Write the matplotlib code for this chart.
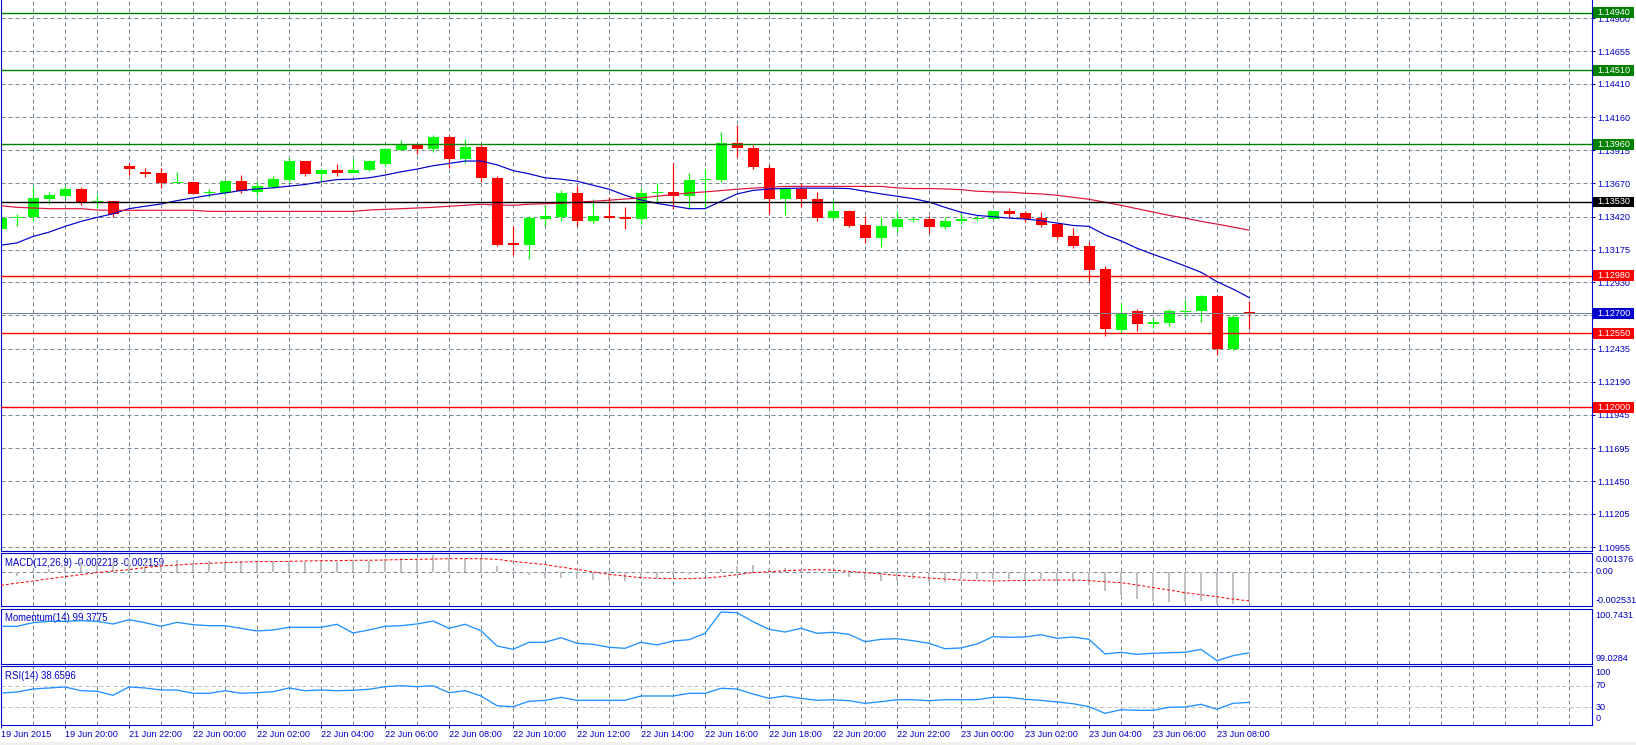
import matplotlib
matplotlib.use('Agg')
import matplotlib.pyplot as plt
from matplotlib.patches import Rectangle
from matplotlib.transforms import IdentityTransform
import numpy as np

plt.rcParams['font.family'] = ['Liberation Sans', 'DejaVu Sans']
plt.rcParams['lines.scale_dashes'] = False

W, H, DPI = 1636, 745, 100

# ---------------- data (EURUSD M30) ----------------
opens = [1.13328, 1.13408, 1.13418, 1.13552, 1.13575, 1.13627, 1.13530, 1.13537,
         1.13800, 1.13755, 1.13745, 1.13672, 1.13680, 1.13597, 1.13600, 1.13687,
         1.13605, 1.13642, 1.13695, 1.13832, 1.13735, 1.13770, 1.13747, 1.13765,
         1.13815, 1.13920, 1.13957, 1.13927, 1.14017, 1.13852, 1.13942, 1.13710,
         1.13222, 1.13208, 1.13403, 1.13418, 1.13597, 1.13388, 1.13425, 1.13418,
         1.13403, 1.13595, 1.13602, 1.13575, 1.13690, 1.13697, 1.13972, 1.13934,
         1.13785, 1.13552, 1.13627, 1.13552, 1.13410, 1.13463, 1.13355, 1.13260,
         1.13345, 1.13395, 1.13405, 1.13343, 1.13388, 1.13401, 1.13405, 1.13463,
         1.13445, 1.13410, 1.13365, 1.13275, 1.13200, 1.13028, 1.12579, 1.12714,
         1.12624, 1.12628, 1.12712, 1.12718, 1.12826, 1.12436, 1.12708]
highs = [1.13440, 1.13440, 1.13642, 1.13605, 1.13650, 1.13642, 1.13585, 1.13540,
         1.13822, 1.13785, 1.13785, 1.13755, 1.13682, 1.13627, 1.13695, 1.13732,
         1.13687, 1.13725, 1.13862, 1.13839, 1.13777, 1.13815, 1.13852, 1.13845,
         1.13930, 1.13994, 1.13964, 1.14032, 1.14032, 1.14002, 1.13957, 1.13725,
         1.13350, 1.13425, 1.13508, 1.13620, 1.13650, 1.13552, 1.13567, 1.13492,
         1.13635, 1.13672, 1.13822, 1.13747, 1.13777, 1.14054, 1.14107, 1.13957,
         1.13807, 1.13642, 1.13672, 1.13605, 1.13552, 1.13470, 1.13425, 1.13418,
         1.13463, 1.13418, 1.13425, 1.13418, 1.13448, 1.13433, 1.13465, 1.13485,
         1.13463, 1.13455, 1.13375, 1.13335, 1.13230, 1.13051, 1.12774, 1.12729,
         1.12666, 1.12729, 1.12803, 1.12833, 1.12833, 1.12691, 1.12789]
lows = [1.13298, 1.13350, 1.13390, 1.13517, 1.13560, 1.13508, 1.13485, 1.13418,
        1.13732, 1.13717, 1.13635, 1.13670, 1.13588, 1.13567, 1.13582, 1.13597,
        1.13575, 1.13635, 1.13680, 1.13725, 1.13680, 1.13725, 1.13745, 1.13760,
        1.13800, 1.13918, 1.13890, 1.13899, 1.13785, 1.13822, 1.13680, 1.13200,
        1.13133, 1.13105, 1.13350, 1.13388, 1.13350, 1.13373, 1.13406, 1.13328,
        1.13365, 1.13530, 1.13478, 1.13478, 1.13485, 1.13680, 1.13867, 1.13777,
        1.13440, 1.13433, 1.13493, 1.13388, 1.13405, 1.13345, 1.13223, 1.13193,
        1.13305, 1.13380, 1.13298, 1.13328, 1.13365, 1.13388, 1.13395, 1.13418,
        1.13380, 1.13345, 1.13253, 1.13185, 1.12938, 1.12534, 1.12549, 1.12571,
        1.12592, 1.12604, 1.12681, 1.12637, 1.12391, 1.12429, 1.12580]
closes = [1.13410, 1.13420, 1.13560, 1.13582, 1.13627, 1.13530, 1.13537, 1.13442,
          1.13772, 1.13742, 1.13672, 1.13680, 1.13590, 1.13605, 1.13687, 1.13610,
          1.13650, 1.13702, 1.13832, 1.13740, 1.13770, 1.13747, 1.13770, 1.13839,
          1.13927, 1.13957, 1.13927, 1.14017, 1.13852, 1.13942, 1.13710, 1.13208,
          1.13208, 1.13410, 1.13425, 1.13597, 1.13388, 1.13425, 1.13410, 1.13403,
          1.13597, 1.13602, 1.13575, 1.13695, 1.13702, 1.13972, 1.13934, 1.13792,
          1.13552, 1.13627, 1.13552, 1.13410, 1.13463, 1.13350, 1.13260, 1.13350,
          1.13403, 1.13405, 1.13343, 1.13388, 1.13403, 1.13412, 1.13463, 1.13440,
          1.13403, 1.13355, 1.13268, 1.13200, 1.13021, 1.12586, 1.12699, 1.12624,
          1.12631, 1.12714, 1.12718, 1.12826, 1.12436, 1.12669, 1.12700]

ma_fast = [1.13208, 1.13225, 1.13273, 1.13305, 1.13348, 1.13385, 1.13415, 1.13442,
           1.13480, 1.13498, 1.13515, 1.13540, 1.13560, 1.13580, 1.13597, 1.13615,
           1.13627, 1.13635, 1.13648, 1.13660, 1.13680, 1.13697, 1.13700, 1.13710,
           1.13730, 1.13755, 1.13775, 1.13800, 1.13817, 1.13835, 1.13835, 1.13807,
           1.13764, 1.13740, 1.13710, 1.13700, 1.13685, 1.13655, 1.13625, 1.13580,
           1.13545, 1.13520, 1.13500, 1.13480, 1.13480, 1.13535, 1.13590, 1.13616,
           1.13627, 1.13631, 1.13633, 1.13633, 1.13633, 1.13630, 1.13610, 1.13590,
           1.13573, 1.13555, 1.13530, 1.13490, 1.13453, 1.13430, 1.13420, 1.13410,
           1.13403, 1.13390, 1.13373, 1.13355, 1.13348, 1.13285, 1.13240, 1.13185,
           1.13140, 1.13098, 1.13053, 1.13006, 1.12936, 1.12881, 1.12818]
ma_slow = [1.13502, 1.13490, 1.13485, 1.13480, 1.13480, 1.13480, 1.13470, 1.13468,
           1.13468, 1.13468, 1.13468, 1.13468, 1.13468, 1.13460, 1.13460, 1.13460,
           1.13460, 1.13460, 1.13460, 1.13460, 1.13460, 1.13460, 1.13460, 1.13470,
           1.13475, 1.13480, 1.13485, 1.13490, 1.13498, 1.13505, 1.13513, 1.13508,
           1.13505, 1.13513, 1.13517, 1.13520, 1.13530, 1.13535, 1.13543, 1.13552,
           1.13560, 1.13573, 1.13585, 1.13597, 1.13605, 1.13615, 1.13625, 1.13633,
           1.13640, 1.13646, 1.13646, 1.13646, 1.13646, 1.13646, 1.13646, 1.13646,
           1.13635, 1.13630, 1.13630, 1.13627, 1.13622, 1.13610, 1.13605, 1.13603,
           1.13595, 1.13590, 1.13580, 1.13565, 1.13550, 1.13528, 1.13505, 1.13480,
           1.13455, 1.13430, 1.13410, 1.13385, 1.13365, 1.13343, 1.13320]

macd_main = [-0.00032, -0.00030, 0.00005, 0.00020, 0.00037, 0.00071, 0.00054, 0.00062,
             0.00086, 0.00066, 0.00076, 0.00086, 0.00066, 0.00081, 0.00071, 0.00081,
             0.00071, 0.00076, 0.00081, 0.00071, 0.00074, 0.00071, 0.00081, 0.00076,
             0.00091, 0.00101, 0.00091, 0.00120, 0.00103, 0.00096, 0.00101, 0.00040,
             -0.00020, -0.00027, -0.00044, -0.00044, -0.00057, -0.00062, -0.00069, -0.00069,
             -0.00052, -0.00044, -0.00027, -0.00020, -0.00017, 0.00017, 0.00042, 0.00047,
             0.00030, 0.00025, 0.00010, -0.00007, -0.00007, -0.00037, -0.00062, -0.00069,
             -0.00069, -0.00057, -0.00076, -0.00076, -0.00057, -0.00057, -0.00052, -0.00052,
             -0.00062, -0.00052, -0.00069, -0.00076, -0.00098, -0.00143, -0.00172, -0.00204,
             -0.00219, -0.00224, -0.00224, -0.00216, -0.00240, -0.00235, -0.002218]
macd_signal = [-0.00101, -0.00084, -0.00069, -0.00052, -0.00037, -0.00022, -0.00007, 0.00005,
               0.00015, 0.00030, 0.00042, 0.00049, 0.00057, 0.00062, 0.00066, 0.00071,
               0.00074, 0.00074, 0.00076, 0.00079, 0.00081, 0.00081, 0.00084, 0.00084,
               0.00086, 0.00089, 0.00091, 0.00093, 0.00096, 0.00096, 0.00096, 0.00091,
               0.00076, 0.00064, 0.00052, 0.00034, 0.00017, -0.00002, -0.00020, -0.00032,
               -0.00044, -0.00049, -0.00052, -0.00052, -0.00047, -0.00037, -0.00022, -0.00007,
               0.00000, 0.00007, 0.00012, 0.00015, 0.00012, 0.00002, -0.00007, -0.00017,
               -0.00027, -0.00037, -0.00047, -0.00054, -0.00062, -0.00066, -0.00069, -0.00066,
               -0.00066, -0.00062, -0.00062, -0.00062, -0.00066, -0.00074, -0.00081, -0.00098,
               -0.00118, -0.00135, -0.00155, -0.00170, -0.00185, -0.00202, -0.002159]

momentum = [100.197, 100.197, 100.309, 100.352, 100.352, 100.371, 100.352, 100.269,
            100.402, 100.309, 100.197, 100.321, 100.247, 100.216, 100.216, 100.135,
            100.052, 100.083, 100.166, 100.166, 100.166, 100.259, 99.990, 100.083,
            100.197, 100.216, 100.269, 100.362, 100.135, 100.259, 100.061, 99.587,
            99.484, 99.701, 99.701, 99.844, 99.670, 99.639, 99.546, 99.515,
            99.701, 99.618, 99.742, 99.782, 99.980, 100.641, 100.619, 100.340,
            100.104, 100.021, 100.135, 99.980, 100.011, 99.949, 99.720, 99.794,
            99.813, 99.751, 99.670, 99.503, 99.525, 99.649, 99.875, 99.856,
            99.866, 99.937, 99.825, 99.866, 99.794, 99.339, 99.391, 99.329,
            99.360, 99.379, 99.391, 99.484, 99.131, 99.286, 99.3775]

rsi = [56.3, 58.2, 63.8, 65.7, 67.6, 60.6, 59.5, 52.0,
       67.6, 65.7, 61.9, 61.9, 55.7, 55.7, 60.6, 55.7,
       56.9, 58.7, 65.7, 60.6, 61.9, 60.6, 61.4, 63.2,
       68.1, 70.0, 68.1, 70.0, 56.9, 60.6, 50.7, 32.4,
       30.6, 40.7, 42.6, 48.2, 42.6, 42.6, 42.6, 42.6,
       50.7, 50.7, 50.7, 55.7, 55.7, 65.1, 63.8, 54.4,
       46.3, 50.7, 46.3, 42.6, 43.7, 41.8, 36.9, 40.0,
       43.7, 43.7, 41.8, 43.7, 43.7, 43.7, 48.2, 48.2,
       44.5, 42.6, 39.4, 36.2, 30.6, 18.2, 24.9, 23.8,
       23.8, 29.4, 30.0, 35.1, 25.7, 36.9, 38.6596]

time_labels = ['19 Jun 2015', '19 Jun 20:00', '21 Jun 22:00', '22 Jun 00:00',
               '22 Jun 02:00', '22 Jun 04:00', '22 Jun 06:00', '22 Jun 08:00',
               '22 Jun 10:00', '22 Jun 12:00', '22 Jun 14:00', '22 Jun 16:00',
               '22 Jun 18:00', '22 Jun 20:00', '22 Jun 22:00', '23 Jun 00:00',
               '23 Jun 02:00', '23 Jun 04:00', '23 Jun 06:00', '23 Jun 08:00']

grid_labels = ['1.14900', '1.14655', '1.14410', '1.14160', '1.13915', '1.13670',
               '1.13420', '1.13175', '1.12930', '1.12685', '1.12435', '1.12190',
               '1.11945', '1.11695', '1.11450', '1.11205', '1.10955']
grid_prices = [float(s) for s in grid_labels]

level_values = [1.14940, 1.14510, 1.13960, 1.13530, 1.12980, 1.12550, 1.12000]
level_colors = ['#008000', '#008000', '#008000', '#000000', '#FF0000', '#FF0000', '#FF0000']
bid_price = 1.12700

macd_title = 'MACD(12,26,9) -0.002218 -0.002159'
mom_title = 'Momentum(14) 99.3775'
rsi_title = 'RSI(14) 38.6596'
macd_scale = [0.001376, -0.002531]
mom_scale = [100.7431, 99.0284]
rsi_levels = [30, 70]

# ---------------- styling ----------------
FG = '#0000C8'
GRID = '#778899'
BULL = '#00FF00'
BEAR = '#FF0000'
PX = 72.0 / DPI  # one pixel in points
FS = 6.6
FS_T = 6.9
DASH = (0, (4 * PX, 3 * PX))

fig = plt.figure(figsize=(W / DPI, H / DPI), dpi=DPI)
fig.patch.set_facecolor('white')

LEFT, RIGHT = 0.5, 1591.7


def add_panel(top, bottom):
    a = fig.add_axes([LEFT / W, 1 - bottom / H, (RIGHT - LEFT) / W, (bottom - top) / H])
    a.set_facecolor('white')
    for s in a.spines.values():
        s.set_color(FG)
        s.set_linewidth(1.1 * PX)
    return a


ax = add_panel(-3, 551)
ax_macd = add_panel(553, 606)
ax_mom = add_panel(608.7, 664)
ax_rsi = add_panel(666.3, 724.7)
ax.spines['top'].set_visible(False)

n = len(closes)
idx = np.arange(n)
# bar k is drawn at pixel 1 + 16k
x0 = (LEFT - 1) / 16.0
x1 = (RIGHT - 1) / 16.0
for a in (ax, ax_macd, ax_mom, ax_rsi):
    a.set_xlim(x0, x1)
    a.tick_params(axis='x', which='both', bottom=False, labelbottom=False)
    for g in np.arange(2, x1, 2):
        a.axvline(g, color=GRID, lw=PX, ls=DASH, zorder=0.5)

# ---------------- main chart ----------------
ax.set_ylim(1.109285, 1.150577)
for gp in grid_prices:
    ax.axhline(gp, color=GRID, lw=PX, ls=DASH, zorder=0.5)

o = np.array(opens); c = np.array(closes); hi = np.array(highs); lo = np.array(lows)
up = c >= o
cols = np.where(up, BULL, BEAR)
ax.vlines(idx, lo, hi, colors=cols, lw=1.2 * PX, zorder=2)
body_lo = np.minimum(o, c)
body_h = np.maximum(np.abs(c - o), 0.00010)
body_lo = np.where(np.abs(c - o) < 0.00010, (o + c) / 2 - 0.00005, body_lo)
ax.bar(idx, body_h, bottom=body_lo, width=11 / 16, color=cols, linewidth=0, zorder=2.5)

ax.plot(idx, ma_fast, color='#0000CD', lw=1.2 * PX, zorder=3)
ax.plot(idx, ma_slow, color='#DC143C', lw=1.2 * PX, zorder=3)

for v, col in zip(level_values, level_colors):
    ax.axhline(v, color=col, lw=1.4 * PX, zorder=4)
ax.axhline(bid_price, color='#708090', lw=1.0 * PX, zorder=4)

ax.yaxis.tick_right()
ax.set_yticks(grid_prices)
ax.set_yticklabels(grid_labels)
ax.tick_params(axis='y', direction='out', length=3 * PX, width=PX, colors=FG,
               labelsize=FS, pad=3 * PX)

# label boxes on the price axis
fig.canvas.draw()
box_items = list(zip(level_values, level_colors)) + [(bid_price, '#0000CD')]
for v, col in box_items:
    yd = ax.transData.transform((0, v))[1]
    fig.add_artist(Rectangle((1593, yd - 5.4), 41, 10.8, transform=IdentityTransform(),
                             facecolor=col, edgecolor='none', zorder=5))
    fig.text(1613.5, yd, '%.5f' % v, transform=IdentityTransform(), color='white',
             fontsize=FS, ha='center', va='center', zorder=6)

# ---------------- MACD ----------------
ax_macd.set_ylim(macd_scale[1], macd_scale[0])
ax_macd.axhline(0, color=GRID, lw=PX, ls=DASH, zorder=0.5)
ax_macd.bar(idx, macd_main, width=2 / 16, color='#C0C0C0', linewidth=0, zorder=2)
ax_macd.plot(idx, macd_signal, color='#FF0000', lw=1.0 * PX,
             ls=(0, (3 * PX, 2 * PX)), zorder=3)
TX = 4.5 / (RIGHT - LEFT)
ax_macd.text(TX, 0.82, macd_title, transform=ax_macd.transAxes,
             color=FG, fontsize=FS_T, ha='left', va='center', zorder=1)
ax_macd.set_yticks([])

# ---------------- Momentum ----------------
ax_mom.set_ylim(mom_scale[1], mom_scale[0])
ax_mom.plot(idx, momentum, color='#1E90FF', lw=1.3 * PX, zorder=3)
ax_mom.text(TX, 0.84, mom_title, transform=ax_mom.transAxes,
            color=FG, fontsize=FS_T, ha='left', va='center', zorder=1)
ax_mom.set_yticks([])

# ---------------- RSI ----------------
ax_rsi.set_ylim(-3.2, 106.4)
for lv in rsi_levels:
    ax_rsi.axhline(lv, color='#C0C0C0', lw=PX, ls=DASH, zorder=0.5)
ax_rsi.plot(idx, rsi, color='#1E90FF', lw=1.3 * PX, zorder=3)
ax_rsi.text(TX, 0.84, rsi_title, transform=ax_rsi.transAxes,
            color=FG, fontsize=FS_T, ha='left', va='center', zorder=1)
ax_rsi.set_yticks([])


# right-hand scale texts of the indicator windows
def side_label(a, yval, text, va, dy=0):
    a.annotate(text, xy=(1, yval), xycoords=('axes fraction', 'data'),
               xytext=(4, dy), textcoords='offset pixels', color=FG,
               fontsize=FS, ha='left', va=va, annotation_clip=False)


side_label(ax_macd, macd_scale[0], '%.6f' % macd_scale[0], 'top', -2)
side_label(ax_macd, 0, '0.00', 'center')
side_label(ax_macd, macd_scale[1], '%.6f' % macd_scale[1], 'bottom', 1)
side_label(ax_mom, mom_scale[0], '%.4f' % mom_scale[0], 'top', -2)
side_label(ax_mom, mom_scale[1], '%.4f' % mom_scale[1], 'bottom', 1)
side_label(ax_rsi, 100, '100', 'center', -3)
side_label(ax_rsi, 70, '70', 'center')
side_label(ax_rsi, 30, '30', 'center')
side_label(ax_rsi, 0, '0', 'center', 4)

# time axis
ax_rsi.set_xticks(idx[::4][:len(time_labels)])
ax_rsi.set_xticklabels(time_labels)
ax_rsi.tick_params(axis='x', which='major', bottom=True, labelbottom=True,
                   direction='out', length=3 * PX, width=PX, colors=FG,
                   labelsize=FS, pad=2 * PX)
for lab in ax_rsi.get_xticklabels():
    lab.set_ha('left')

# bottom strip
fig.add_artist(Rectangle((0, 0), W, 3, transform=IdentityTransform(),
                         facecolor='#F0F0F0', edgecolor='none'))

fig.savefig('out.png', dpi=DPI, facecolor='white')
